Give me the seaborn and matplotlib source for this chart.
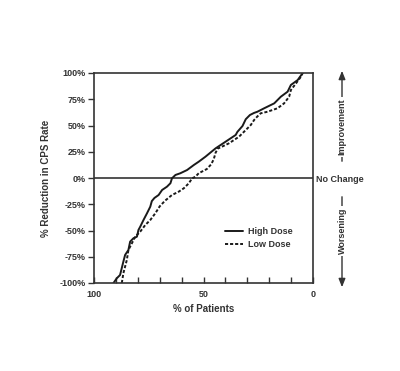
import matplotlib
matplotlib.use("Agg")
import matplotlib.pyplot as plt
import seaborn as sns
import pandas as pd
from matplotlib.ticker import MultipleLocator, FixedLocator, FuncFormatter

# ---- data ----
high_x = [91.1, 89.6, 88.1, 86.6, 85.8, 84.3, 83.5, 82.0, 80.4, 79.7, 78.9, 77.4, 75.8, 74.3,
          73.6, 72.4, 70.5, 68.9, 66.7, 65.1, 64.4, 62.8, 60.6, 57.5, 54.4, 52.2, 49.1, 44.5,
          39.9, 35.3, 34.5, 32.2, 30.7, 28.8, 26.9, 25.4, 22.3, 17.7, 14.7, 11.6, 10.1, 7.0, 4.7]
high_y = [-100, -95.5, -92.4, -79.7, -73.3, -68.6, -60.6, -57.4, -55.9, -49.5, -46.4, -40, -33.6, -27.3,
          -22, -19, -16.2, -11.4, -8.3, -5, -0.3, 2.9, 4.5, 7.6, 12.4, 15.5, 20.3, 28.2,
          34.6, 41, 44, 49.5, 56, 60, 62, 63.1, 66.4, 71.1, 77.4, 82.2, 88.6, 93.3, 100]

low_x = [87.3, 86.6, 85.0, 84.3, 82.7, 81.2, 78.9, 76.6, 74.3, 72.0, 70.0, 67.5, 64.4, 61.3,
         59.0, 56.7, 55.2, 53.7, 52.2, 48.5, 46.5, 45.3, 44.5, 43.5, 41.4, 38.4, 33.8, 30.7,
         28.4, 26.9, 25.5, 23.9, 20.8, 16.2, 13.2, 10.9, 10.1, 7.8, 5.5, 4.7]
low_y = [-100, -90.8, -78, -68.6, -62.2, -55.9, -51.1, -44.8, -40, -33.6, -27, -21.5, -16.2, -13,
         -9.8, -5, -0.3, 1.2, 4.5, 8.5, 13, 18, 24, 28, 30, 33, 39.3, 45.7,
         50.5, 55.2, 58.4, 61.6, 63.1, 66.4, 71.1, 77.4, 83.8, 90, 96.5, 100]

series_names = ["High Dose", "Low Dose"]
y_ticks = [-100, -75, -50, -25, 0, 25, 50, 75, 100]
x_major = [100, 50, 0]

sns.set_style("white")
plt.rcParams["font.family"] = ["Liberation Sans", "DejaVu Sans"]

fig = plt.figure(figsize=(4.0, 3.71), dpi=100)
W, H = 400, 371
ax = fig.add_axes([94 / W, 1 - 283 / H, (313 - 94) / W, (283 - 73) / H])

df_high = pd.DataFrame({"x": high_x, "y": high_y})
df_low = pd.DataFrame({"x": low_x, "y": low_y})
sns.lineplot(data=df_high, x="x", y="y", sort=False, estimator=None, ax=ax,
             color="#1a1a1a", lw=1.4, label=series_names[0])
sns.lineplot(data=df_low, x="x", y="y", sort=False, estimator=None, ax=ax,
             color="#1a1a1a", lw=1.4, linestyle=(0, (1.6, 1.0)), label=series_names[1])

ax.axhline(0, color="#333333", lw=1.2, zorder=1)

ax.set_xlim(100, 0)
ax.set_ylim(-100, 100)

for s in ax.spines.values():
    s.set_color("#333333")
    s.set_linewidth(1.2)

ax.yaxis.set_major_locator(FixedLocator(y_ticks))
ax.yaxis.set_major_formatter(FuncFormatter(lambda v, p: f"{int(v)}%"))
ax.xaxis.set_major_locator(FixedLocator(x_major))
ax.xaxis.set_minor_locator(MultipleLocator(10))
ax.tick_params(axis="y", which="major", direction="out", length=4, width=1.0,
               color="#333333", labelsize=6.5, pad=2, left=True)
ax.tick_params(axis="x", which="both", direction="in", length=4, width=1.0,
               color="#333333", labelsize=6.5, pad=5, bottom=True)
for lab in ax.get_xticklabels() + ax.get_yticklabels():
    lab.set_fontweight("bold")
    lab.set_color("#333333")

ax.set_xlabel("% of Patients", fontsize=7, fontweight="bold", color="#333333", labelpad=4)
ax.set_ylabel("% Reduction in CPS Rate", fontsize=7, fontweight="bold", color="#333333",
              labelpad=6)

leg = ax.legend(loc="center left", bbox_to_anchor=(0.56, 0.215), frameon=False,
                fontsize=6.5, handlelength=2.0, handletextpad=0.6, labelspacing=0.45)
for t in leg.get_texts():
    t.set_fontweight("bold")
    t.set_color("#333333")

# right-side annotations (figure pixel coordinates, origin bottom-left)
def fy(y):
    return H - y

fig.text(340 / W, fy(179) / H, "No Change", fontsize=6.5, fontweight="bold",
         color="#333333", ha="center", va="center")

arrowprops = dict(arrowstyle="-|>,head_length=0.5,head_width=0.2", color="#333333", lw=1.0)
ax.annotate("", xy=(342, fy(68)), xytext=(342, fy(164)), xycoords="figure pixels",
            textcoords="figure pixels", arrowprops=arrowprops, annotation_clip=False)
fig.text(342 / W, fy(127) / H, "Improvement", rotation=90, fontsize=6.5, fontweight="bold",
         color="#333333", ha="center", va="center",
         bbox=dict(facecolor="white", edgecolor="none", pad=1.5))

ax.annotate("", xy=(342, fy(290)), xytext=(342, fy(194)), xycoords="figure pixels",
            textcoords="figure pixels", arrowprops=arrowprops, annotation_clip=False)
fig.text(342 / W, fy(231) / H, "Worsening", rotation=90, fontsize=6.5, fontweight="bold",
         color="#333333", ha="center", va="center",
         bbox=dict(facecolor="white", edgecolor="none", pad=1.5))

fig.savefig("out.png", dpi=100)
